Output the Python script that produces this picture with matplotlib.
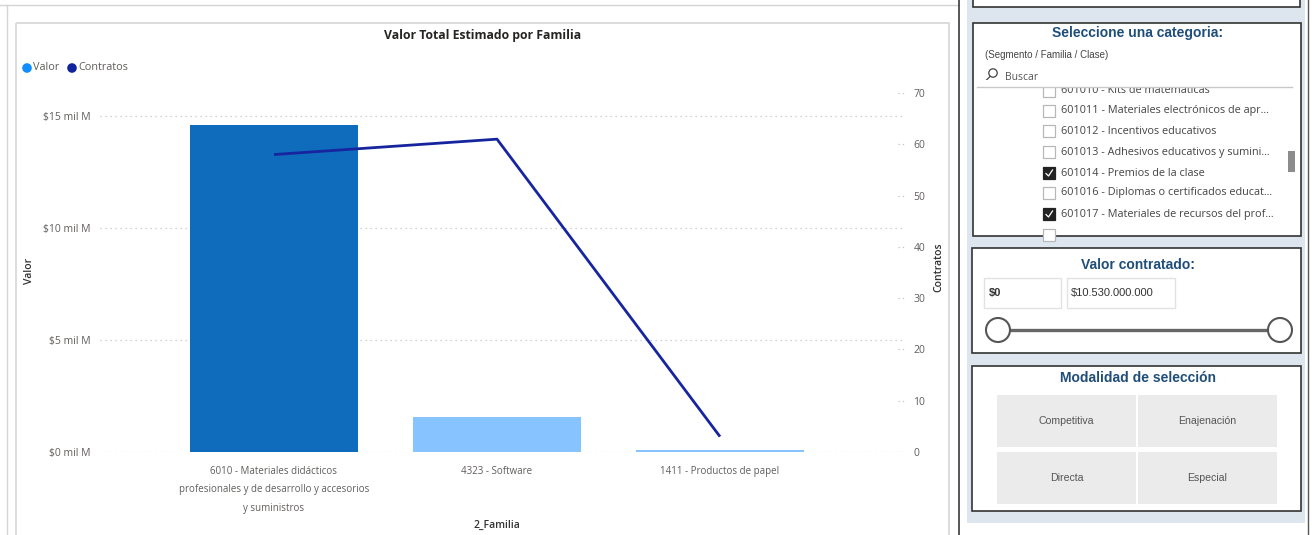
import matplotlib
matplotlib.use('Agg')
import matplotlib.pyplot as plt
from matplotlib.patches import Rectangle, Circle
from matplotlib.lines import Line2D
import numpy as np

# ---------------- data ----------------
categories = ["6010 - Materiales didácticos\nprofesionales y de desarrollo y accesorios\ny suministros",
              "4323 - Software",
              "1411 - Productos de papel"]
valor = [14.6, 1.56, 0.10]          # en mil M
contratos = [58, 61, 3]
valor_ticks = [0, 5, 10, 15]
valor_tick_labels = ["$0 mil M", "$5 mil M", "$10 mil M", "$15 mil M"]
contratos_ticks = [0, 10, 20, 30, 40, 50, 60, 70]
bar_colors = ['#0F6CBD', '#87C3FF', '#87C3FF']

list_items = ["601010 - Kits de matemáticas",
              "601011 - Materiales electrónicos de apr...",
              "601012 - Incentivos educativos",
              "601013 - Adhesivos educativos y sumini...",
              "601014 - Premios de la clase",
              "601016 - Diplomas o certificados educat...",
              "601017 - Materiales de recursos del prof...",
              ""]
list_checked = [False, False, False, False, True, False, True, False]
modalidades = ["Competitiva", "Enajenación", "Directa", "Especial"]
rango_valor = ["$0", "$10.530.000.000"]

# ---------------- figure ----------------
W, H = 1312, 535
fig = plt.figure(figsize=(W / 100, H / 100), dpi=100)
fig.patch.set_facecolor('white')

bg = fig.add_axes([0, 0, 1, 1])
bg.set_xlim(0, W)
bg.set_ylim(H, 0)
bg.axis('off')
bg.set_zorder(0)

FONT = 'Open Sans'
ARIAL = 'Liberation Sans'
TXT = '#605E5C'

# frames on the left side
bg.add_line(Line2D([0, 959], [5, 5], color='#d4d4d4', lw=1))
bg.add_line(Line2D([7, 7], [5, H], color='#d4d4d4', lw=1))
bg.add_patch(Rectangle((16, 23), 933, 520, fill=False, ec='#d6d6d6', lw=1.2))
bg.add_line(Line2D([959, 959], [0, H], color='#3a3a3a', lw=1.2))

# right panel background
bg.add_patch(Rectangle((967, 0), 338, 523, color='#DDE6EE', lw=0))
bg.add_line(Line2D([1308, 1308], [0, H], color='#555555', lw=1))

# top partial box
bg.add_patch(Rectangle((973, -5), 327, 12, fc='white', ec='#333333', lw=1.2))

# ---------- chart axes ----------
x0_px, x1_px, ytop_px, ybot_px = 100, 905, 93, 452
c0, step = 274, 223
ax = fig.add_axes([x0_px / W, (H - ybot_px) / H, (x1_px - x0_px) / W, (ybot_px - ytop_px) / H])
ax.set_zorder(2)
ax.set_facecolor('none')
x = np.arange(len(categories))
ax.bar(x, valor, width=168 / step, color=bar_colors, zorder=2)
ax.set_xlim((x0_px - c0) / step, (x1_px - c0) / step)
ax.set_ylim(0, (ybot_px - ytop_px) / 22.4)
ax.set_yticks(valor_ticks)
ax.set_yticklabels(valor_tick_labels, fontsize=7.5, color=TXT, family=FONT)
ax.yaxis.grid(True, ls=(0, (1, 3)), color='#c4c4c4', lw=0.9)
ax.set_axisbelow(True)
ax.set_xticks(x)
ax.set_xticklabels(categories, fontsize=7, color=TXT, family=FONT, linespacing=1.95)
ax.tick_params(axis='y', length=0, pad=7)
ax.tick_params(axis='x', length=0, pad=10)
for s in ax.spines.values():
    s.set_visible(False)

ax2 = ax.twinx()
ax2.plot(x, contratos, color='#16259E', lw=2.0, solid_capstyle='butt', zorder=3)
ax2.set_ylim(0, 70)
ax2.set_yticks(contratos_ticks)
ax2.set_yticklabels([str(t) for t in contratos_ticks], fontsize=7.5, color=TXT, family=FONT)
ax2.tick_params(axis='y', length=0, pad=6)
for t in contratos_ticks:
    ax2.axhline(t, xmin=0.991, xmax=1.0, ls=(0, (1, 2.5)), color='#c4c4c4', lw=0.9)
for s in ax2.spines.values():
    s.set_visible(False)

# chart texts
bg.text(483, 36, "Valor Total Estimado por Familia", ha='center', va='center',
        fontsize=8.8, fontweight='bold', color='#252423', family=FONT)
bg.add_patch(Circle((27, 68), 4.8, color='#118DFF', lw=0))
bg.text(33, 68, "Valor", ha='left', va='center', fontsize=7.8, color=TXT, family=FONT)
bg.add_patch(Circle((72, 68), 4.8, color='#12239E', lw=0))
bg.text(78, 68, "Contratos", ha='left', va='center', fontsize=7.8, color=TXT, family=FONT)
bg.text(29, 271, "Valor", ha='center', va='center', rotation=90, fontsize=7.5,
        fontweight='semibold', color='#333333', family=FONT)
bg.text(939, 267, "Contratos", ha='center', va='center', rotation=90, fontsize=7.5,
        fontweight='semibold', color='#333333', family=FONT)
bg.text(497, 525, "2_Familia", ha='center', va='center', fontsize=7.5,
        fontweight='semibold', color='#333333', family=FONT)

# ---------- right panel: categoria ----------
TITLE_C = '#1F4E79'
bg.add_patch(Rectangle((973, 23), 328, 213, fc='white', ec='#333333', lw=1.2))
bg.text(1138, 33, "Seleccione una categoria:", ha='center', va='center', fontsize=10,
        fontweight='bold', color=TITLE_C, family=ARIAL)
bg.text(985, 55, "(Segmento / Familia / Clase)", ha='left', va='center', fontsize=7,
        color='#444444', family=ARIAL)
bg.add_patch(Circle((993, 73), 4.2, fill=False, ec='#444444', lw=0.9))
bg.add_line(Line2D([990, 985], [76.5, 81.5], color='#444444', lw=0.9))
bg.text(1005, 77, "Buscar", ha='left', va='center', fontsize=7.5, color='#555555', family=FONT)

clip = Rectangle((974, 88), 326, 147, transform=bg.transData)
ys = [90.5, 111, 131, 152, 173, 193, 214, 235]
for item, chk, yy in zip(list_items, list_checked, ys):
    box = Rectangle((1043, yy - 6), 12, 12, fc='#222222' if chk else 'white',
                    ec='#222222' if chk else '#b8b8b8', lw=0.9)
    box.set_clip_path(clip)
    bg.add_patch(box)
    if chk:
        ln = Line2D([1046, 1048.5, 1052.5], [yy + 0.5, yy + 3, yy - 3], color='white', lw=0.9)
        bg.add_line(ln)
    t = bg.text(1061, yy, item, ha='left', va='center', fontsize=7.8, color='#444444', family=FONT)
    t.set_clip_on(True)
    t.set_clip_path(clip)
# white mask above list (separator area) to hide the cut part of the first item
bg.add_patch(Rectangle((975, 79.5), 324, 7.5, color='white', lw=0, zorder=3))
bg.add_line(Line2D([977, 1292], [87, 87], color='#c8c8c8', lw=1, zorder=4))
bg.add_patch(Rectangle((1288, 151), 7, 21, color='#8c8c8c', lw=0))

# ---------- right panel: valor contratado ----------
bg.add_patch(Rectangle((972, 248), 329, 105, fc='white', ec='#333333', lw=1.2))
bg.text(1138, 265, "Valor contratado:", ha='center', va='center', fontsize=10,
        fontweight='bold', color=TITLE_C, family=ARIAL)
bg.add_patch(Rectangle((984, 278), 77, 30, fc='white', ec='#e2e2e2', lw=1))
bg.add_patch(Rectangle((1067, 278), 108, 30, fc='white', ec='#e2e2e2', lw=1))
bg.text(989, 293, rango_valor[0], ha='left', va='center', fontsize=8, fontweight='bold',
        color='#333333', family=ARIAL)
bg.text(1071, 293, rango_valor[1], ha='left', va='center', fontsize=8, color='#333333', family=ARIAL)
bg.add_line(Line2D([998, 1280], [330, 330], color='#666666', lw=2.4))
for cx in (998, 1280):
    bg.add_patch(Circle((cx, 330), 12, fc='white', ec='#555555', lw=1.5, zorder=3))

# ---------- right panel: modalidad ----------
bg.add_patch(Rectangle((972, 366), 329, 145, fc='white', ec='#333333', lw=1.2))
bg.text(1138, 378, "Modalidad de selección", ha='center', va='center', fontsize=10,
        fontweight='bold', color=TITLE_C, family=ARIAL)
cells = [(997, 395), (1138, 395), (997, 452), (1138, 452)]
for lab, (cx, cy) in zip(modalidades, cells):
    bg.add_patch(Rectangle((cx, cy), 139, 52, color='#EBEBEB', lw=0))
    bg.text(cx + 69.5, cy + 26, lab, ha='center', va='center', fontsize=7.6,
            color='#555555', family=ARIAL)

fig.savefig('out.png', dpi=100, facecolor='white')
